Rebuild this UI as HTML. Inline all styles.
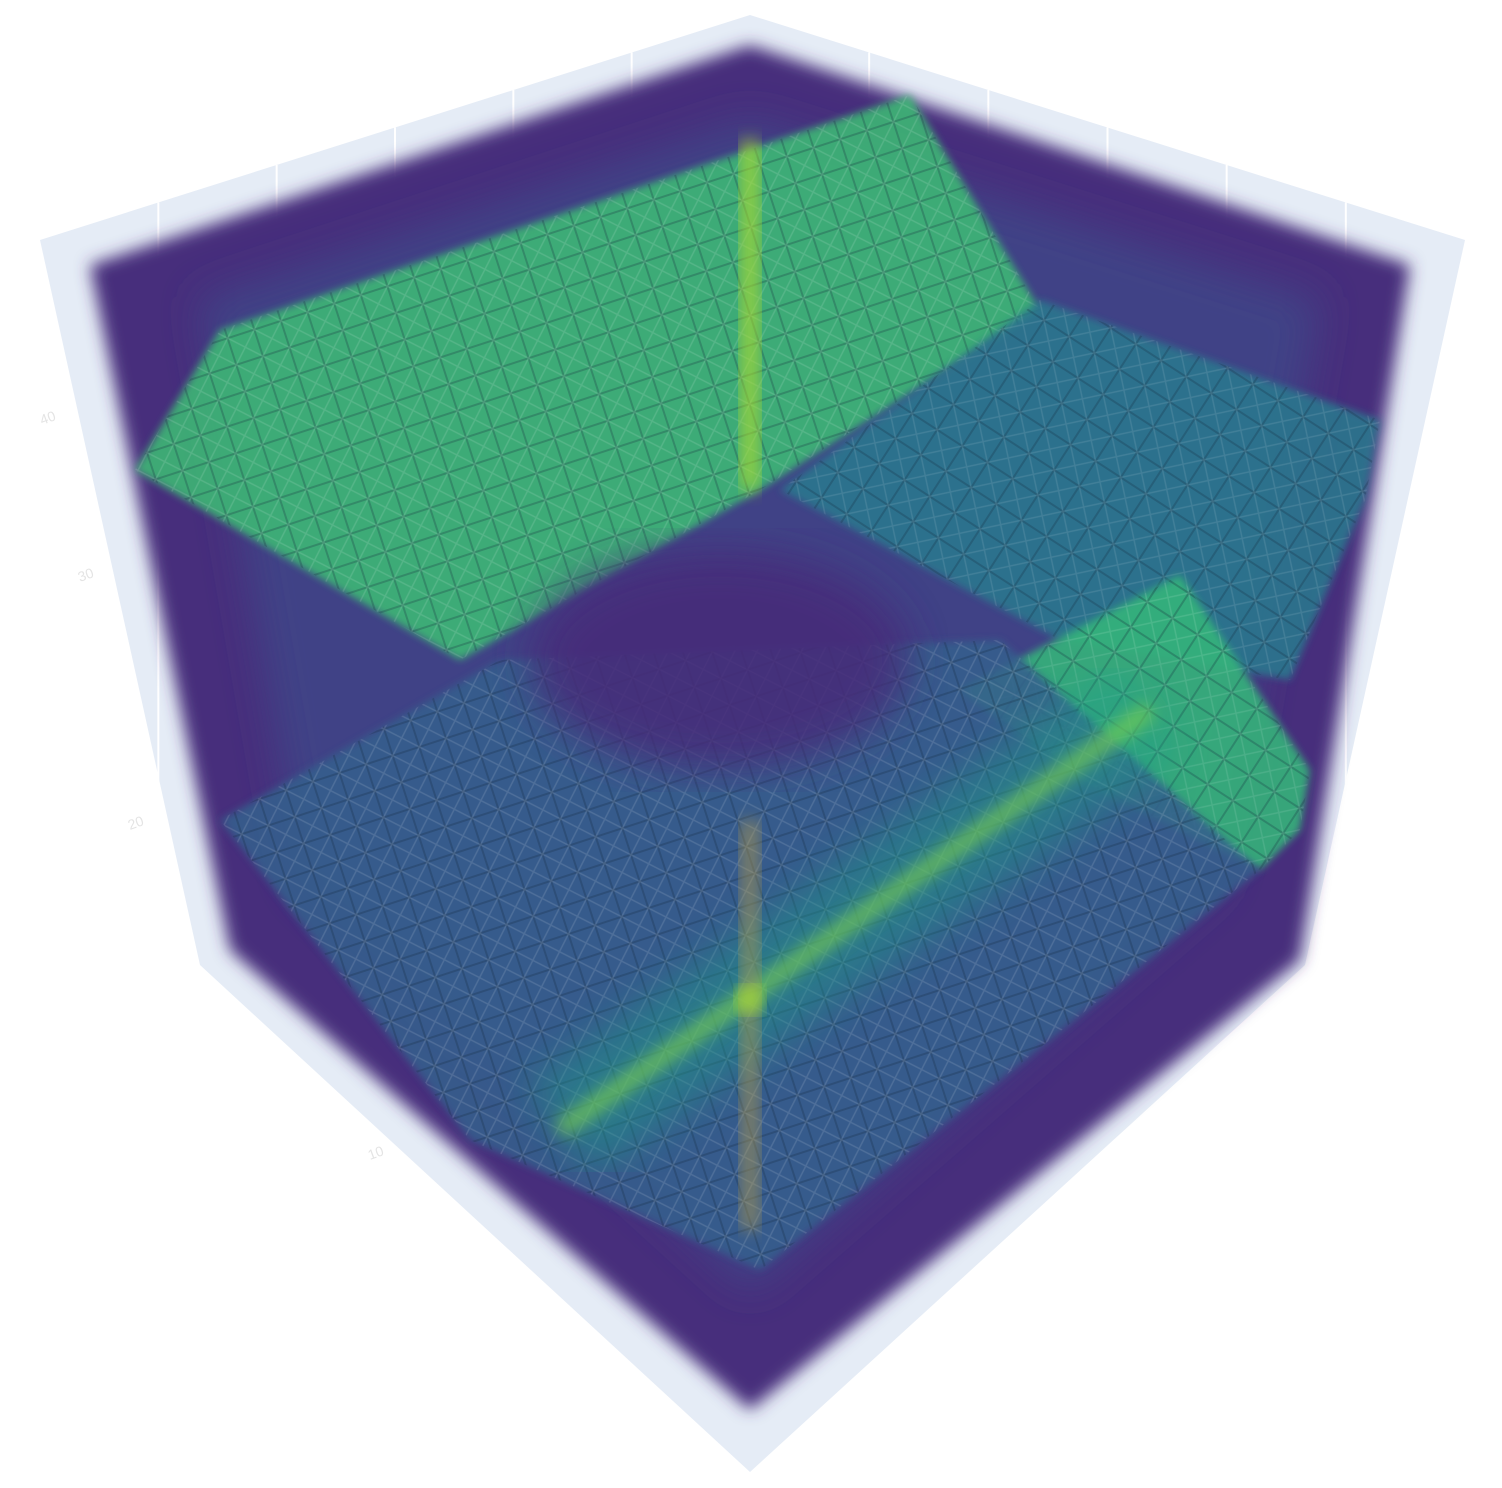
<!DOCTYPE html>
<html><head><meta charset="utf-8"><style>
html,body{margin:0;padding:0;background:#fff;width:1502px;height:1488px;overflow:hidden;font-family:"Liberation Sans",sans-serif}
</style></head><body>
<svg id="chart" width="1502" height="1488" viewBox="0 0 1502 1488" xmlns="http://www.w3.org/2000/svg">
<defs>
<filter id="blur8"><feGaussianBlur stdDeviation="8"/></filter>
<filter id="blur20"><feGaussianBlur stdDeviation="20"/></filter>
<filter id="blur4"><feGaussianBlur stdDeviation="4"/></filter>
<pattern id="grid" width="28" height="28" patternUnits="userSpaceOnUse" patternTransform="rotate(-18)">
<rect width="28" height="28" fill="none" stroke="rgba(20,40,60,0.25)" stroke-width="2"/>
<path d="M0 0L14 14L28 0M0 28L14 14L28 28" stroke="rgba(255,255,255,0.12)" stroke-width="1.5" fill="none"/>
</pattern>
<pattern id="grid2" width="30" height="30" patternUnits="userSpaceOnUse" patternTransform="rotate(33)">
<rect width="30" height="30" fill="none" stroke="rgba(20,40,60,0.25)" stroke-width="2"/>
<path d="M0 0L15 15L30 0M0 30L15 15L30 30" stroke="rgba(255,255,255,0.1)" stroke-width="1.5" fill="none"/>
</pattern>
</defs>
<g id="back-faces">
<polygon points="750,15 40,240 200,965 750,1472 1305,965 1465,240" fill="#e5ecf6"/>
<g id="gridlines" stroke="#fff" stroke-width="2"></g>
</g>
<g id="volume"></g>
<g id="ticks"></g>
</svg>
<script>
// tick labels and slab intensities (0..1 on viridis scale)
const tickLabels = ["40","30","20","10"];
const slabNames = ["upper-slab","right-slab","lower-right-slab","bottom-plate"];
const slabValues = [0.68,0.4,0.66,0.3];
const stripeValues = [0.88,0.8,0.85];

const NS="http://www.w3.org/2000/svg";
function mk(tag,attrs,parent){const e=document.createElementNS(NS,tag);for(const k in attrs)e.setAttribute(k,attrs[k]);parent.appendChild(e);return e;}
function viridis(t){
  const stops=[[68,1,84],[72,40,120],[62,74,137],[49,104,142],[38,130,142],[31,158,137],[53,183,121],[110,206,88],[181,222,43],[253,231,37]];
  t=Math.max(0,Math.min(1,t));const p=t*(stops.length-1),i=Math.floor(p),f=p-i;
  const a=stops[i],b=stops[Math.min(i+1,stops.length-1)];
  return `rgb(${a.map((v,k)=>Math.round(v+(b[k]-v)*f)).join(",")})`;
}
const gl=document.getElementById('gridlines');
for(let i=1;i<6;i++){const f=i/6;
  const ax=750+(40-750)*f, ay=15+(240-15)*f;
  const l1=mk('line',{x1:ax,y1:ay,x2:ax,y2:ay+600},gl);
  
  const bx=750+(1465-750)*f, by=15+(240-15)*f;
  const l2=mk('line',{x1:bx,y1:by,x2:bx,y2:by+600},gl);
  
}
const vol=document.getElementById('volume');
const body=mk('polygon',{points:"90,265 750,45 1410,265 1300,960 750,1410 230,950",fill:viridis(0.13),filter:"url(#blur8)"},vol);

mk('polygon',{points:"200,300 750,120 1320,300 1220,880 750,1290 300,880",fill:viridis(0.2),filter:"url(#blur20)"},vol);
const slabs=[
 "135,470 220,330 910,95 1040,310 760,490 460,660",
 "780,490 1040,300 1380,420 1365,500 1290,680 1060,640",
 "960,690 1180,575 1310,770 1300,830 1260,870 1080,780",
 "220,820 500,660 1000,640 1260,870 1000,1080 760,1270 470,1140"
];
const pats=["url(#grid)","url(#grid2)","url(#grid2)","url(#grid)"];
slabs.forEach((pts,i)=>{
  const p=mk('polygon',{points:pts,fill:viridis(slabValues[i]),opacity:0.88,filter:"url(#blur4)"},vol);
  
  
  mk('polygon',{points:pts,fill:pats[i]},vol);
});
mk('ellipse',{cx:720,cy:660,rx:190,ry:110,fill:viridis(0.12),opacity:0.85,filter:"url(#blur20)"},vol);
// glow around lower band
mk('line',{x1:560,y1:1130,x2:1150,y2:710,stroke:viridis(0.55),'stroke-width':110,opacity:0.45,filter:"url(#blur20)"},vol);
const s1=mk('rect',{x:740,y:140,width:20,height:350,fill:viridis(stripeValues[0]),opacity:0.7,filter:"url(#blur8)"},vol);

const s2=mk('line',{x1:560,y1:1130,x2:1150,y2:710,stroke:viridis(stripeValues[1]),'stroke-width':18,opacity:0.7,filter:"url(#blur8)"},vol);

const s3=mk('rect',{x:740,y:820,width:20,height:410,fill:"rgb(190,160,70)",opacity:0.5,filter:"url(#blur8)"},vol);

const dot=mk('circle',{cx:750,cy:1000,r:14,fill:viridis(stripeValues[2]),opacity:0.8,filter:"url(#blur8)"},vol);

const tp=[[42,425],[80,582],[130,830],[370,1160]];
tickLabels.forEach((t,i)=>{const e=mk('text',{x:tp[i][0],y:tp[i][1],'font-size':14,fill:"#e4e4e4",transform:`rotate(-20 ${tp[i][0]} ${tp[i][1]})`},document.getElementById('ticks'));e.textContent=t;

});
</script>
</body></html>
